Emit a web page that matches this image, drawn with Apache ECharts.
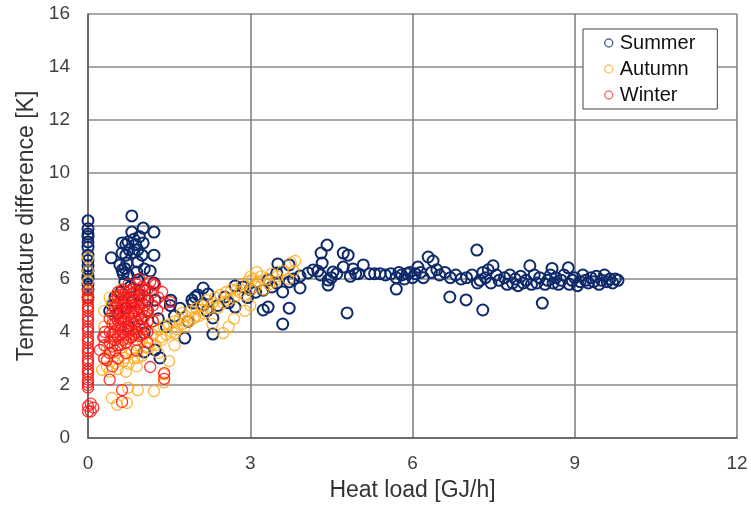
<!DOCTYPE html>
<html><head><meta charset="utf-8">
<script src="https://cdn.jsdelivr.net/npm/echarts@6/dist/echarts.min.js"></script>
<style>html,body{margin:0;padding:0;background:#fff}#c{width:751px;height:511px}</style>
</head><body><div id="c"></div>
<script>
var xTicks = [0, 3, 6, 9, 12];
var yTicks = [0, 2, 4, 6, 8, 10, 12, 14, 16];
var seriesNames = ['Summer', 'Autumn', 'Winter'];

var summer = [
[0,8.2],[0,7.9],[0,7.7],[0,7.6],[0,7.4],[0,7.2],[0,6.9],[0,6.7],[0,6.5],[0,6.3],[0,6.1],[0,6.0],[0,5.8],[0,5.6],[0,5.3],
[0.43,6.8],[0.59,6.53],[0.63,6.34],[0.63,6.98],[0.63,7.36],[0.72,6.6],[0.74,7.4],[0.81,7.77],[0.81,8.38],[0.92,7.1],[0.92,6.64],[1.02,7.36],[1.02,7.92],[1.04,6.38],[0.9,6.26],[0.74,6.15],[0.92,5.96],[0.68,5.89],[1.22,7.77],[1.22,6.9],[1.22,5.85],[1.05,5.58],[0.68,6.4],[0.7,6.9],[0.76,7.1],[0.85,7.0],[0.85,7.5],[0.95,7.6],[0.65,6.2],[0.78,5.7],[0.95,5.4],[0.6,5.5],[0.5,5.32],[0.45,5.0],[0.55,4.7],[0.8,5.1],[1.1,5.2],[1.24,5.2],[1.53,5.2],[1.52,5.0],[1.15,6.3],[1.0,6.9],[0.88,7.3],[0.7,7.3],[0.4,4.8],[0.75,4.2],[0.7,4.9],[0.98,4.5],[1.1,4.8],
[1.04,3.96],[1.24,3.32],[1.33,3.02],[1.04,3.25],[1.79,3.77],[1.98,5.32],[1.94,5.09],[2.13,5.66],[2.03,5.4],[2.22,5.43],[1.92,5.21],[2.13,5.02],[2.31,4.53],[2.31,3.92],[2.72,5.74],[2.72,4.94],[2.87,5.7],[2.53,5.32],[1.7,4.9],[1.6,4.6],[2.4,5.0],[2.6,5.1],[3.0,5.6],[2.95,5.3],[2.2,4.8],[1.85,4.4],[1.45,4.2],[1.3,4.5],
[4.42,7.28],[4.31,6.98],[4.72,6.98],[4.81,6.9],[3.51,6.57],[3.72,6.53],[4.33,6.6],[4.16,6.34],[4.07,6.23],[3.92,6.11],[4.53,6.26],[4.72,6.45],[4.9,6.38],[5.09,6.53],[4.44,5.96],[4.44,5.77],[5.4,6.2],[5.21,6.2],[3.92,5.66],[3.72,5.89],[3.49,6.23],[3.33,5.96],[3.6,5.51],[3.72,4.9],[3.24,4.83],[3.33,4.94],[3.6,4.3],[4.79,4.72],[3.49,5.85],[3.24,5.58],[4.25,6.3],[4.6,6.2],[4.95,6.2],[4.85,6.1],[4.5,6.05],[4.3,6.15],[3.8,6.0],[5.3,6.2],[5.0,6.2],[3.4,5.7],[3.1,5.5],
[5.5,6.15],[5.6,6.2],[5.7,6.05],[5.75,6.25],[5.8,6.15],[5.85,6.0],[5.9,6.2],[5.95,6.25],[6.0,6.05],[6.05,6.2],[6.1,6.45],[6.15,6.25],[6.2,6.05],[6.29,6.83],[6.38,6.68],[6.35,6.25],[6.45,6.35],[6.5,6.15],[6.6,6.25],[6.7,6.05],[6.8,6.15],[6.9,6.0],[7.0,6.05],[7.1,6.15],[7.19,7.09],[7.2,5.85],[7.25,5.95],[7.3,6.25],[7.35,6.05],[7.4,6.35],[7.45,5.85],[7.49,6.5],[7.55,6.15],[7.6,5.95],[7.7,6.05],[7.75,5.8],[7.8,6.15],[7.85,5.85],[7.9,6.0],[7.95,5.75],[8.0,6.1],[8.05,5.85],[8.1,5.95],[8.17,6.5],[8.2,5.8],[8.25,6.15],[8.3,5.85],[8.35,6.05],[8.45,5.8],[8.5,5.95],[8.55,6.15],[8.58,6.4],[8.6,5.85],[8.65,6.05],[8.7,5.8],[8.75,5.95],[8.8,6.15],[8.88,6.42],[8.9,5.8],[8.95,5.95],[9.0,6.05],[9.05,5.75],[9.1,5.9],[9.15,6.15],[9.2,5.95],[9.25,5.85],[9.3,6.05],[9.35,5.9],[9.4,6.1],[9.45,5.8],[9.5,5.95],[9.55,6.15],[9.6,5.9],[9.65,6.0],[9.7,5.85],[9.75,6.0],[9.8,5.95],
[5.7,5.62],[6.69,5.32],[6.99,5.21],[7.3,4.83],[8.4,5.09]
];

var autumn = [
[0,6.8],[0,6.3],[0,5.9],[0,5.5],[0,5.2],[0,4.9],
[0.44,1.51],[0.74,1.89],[0.92,1.81],[1.22,1.77],[0.72,1.32],[0.54,1.25],[1.4,2.1],
[0.26,2.57],[0.35,2.68],[0.5,2.83],[0.68,3.02],[0.92,3.02],[0.81,3.25],[1.05,3.43],[1.37,3.7],[1.61,3.96],[1.79,4.19],[1.98,4.57],[1.74,4.72],[2.11,4.83],[0.46,4.45],[0.44,5.09],[0.54,5.32],
[0.3,3.0],[0.4,2.5],[0.45,3.2],[0.55,2.6],[0.6,3.4],[0.65,2.9],[0.7,3.6],[0.75,2.8],[0.8,3.8],[0.85,3.0],[0.9,3.5],[0.95,3.9],[1.0,3.1],[1.0,3.7],[1.1,3.4],[1.1,4.0],[1.15,3.6],[1.2,3.9],[1.25,3.5],[1.3,4.1],[1.35,3.8],[1.4,4.2],[1.45,3.9],[1.5,4.3],[1.55,4.0],[1.6,4.4],[1.65,4.1],[1.7,4.5],[1.75,4.3],[1.8,4.6],[1.85,4.4],[1.9,4.8],[1.95,4.5],[2.0,4.9],[2.05,4.6],[2.1,5.0],[2.15,4.7],[2.2,5.2],[2.25,4.9],[2.3,5.1],[2.35,5.3],[2.4,4.9],[2.45,5.4],[2.5,5.1],[2.55,5.5],[2.6,5.2],[2.65,5.6],[2.7,5.3],[2.75,5.6],[2.8,5.5],[2.85,5.8],[2.9,5.4],[2.95,5.9],[3.0,5.6],[3.05,6.0],[3.1,5.7],[3.15,5.9],[3.2,6.1],[3.25,5.6],[3.3,6.0],[3.35,5.8],[3.4,6.2],[3.45,5.9],[3.5,6.1],[3.6,6.3],[3.7,6.0],[3.75,6.6],[3.8,6.3],
[2.6,4.2],[2.5,3.96],[2.3,4.3],[2.7,4.5],[3.0,5.0],[2.9,4.8],[1.6,3.5],[1.3,3.2],[1.5,2.9],[1.4,2.4],[0.9,2.7],[0.7,2.5],[0.35,3.4],[0.3,4.8],[0.4,5.3],[0.6,5.6],[0.3,4.2],[0.5,3.8],[0.8,4.4],[1.05,4.7],[1.2,4.4],[3.83,6.68],[3.12,6.26],[3.0,6.08]
];

var winter = [
[0,2.0],[0,2.2],[0,2.4],[0,2.6],[0,2.8],[0,3.0],[0,3.2],[0,3.4],[0,3.6],[0,3.8],[0,4.0],[0,4.2],[0,4.4],[0,4.6],[0,4.8],[0,5.0],[0,5.2],[0,5.4],[0,5.6],[0,2.1],[0,2.5],[0,2.9],[0,3.3],[0,3.7],[0,4.1],[0,4.5],[0,4.9],[0,5.3],[0,1.0],[0,1.2],[0.05,1.3],[0.05,1.0],[0.1,1.15],[0,1.9],
[0.5,3.3],[0.5,3.7],[0.5,4.0],[0.5,4.3],[0.5,4.6],[0.5,4.9],[0.5,5.2],
[0.55,3.5],[0.55,3.85],[0.55,4.15],[0.55,4.45],[0.55,4.75],[0.55,5.05],[0.55,5.35],
[0.6,3.5],[0.6,3.9],[0.6,4.2],[0.6,4.5],[0.6,4.8],[0.6,5.1],[0.6,5.4],
[0.65,3.7],[0.65,4.0],[0.65,4.4],[0.65,4.7],[0.65,5.0],[0.65,5.3],[0.65,5.6],
[0.7,3.6],[0.7,3.9],[0.7,4.2],[0.7,4.5],[0.7,4.8],[0.7,5.1],[0.7,5.5],
[0.75,3.75],[0.75,4.05],[0.75,4.35],[0.75,4.65],[0.75,4.95],[0.75,5.25],[0.75,5.55],
[0.8,3.8],[0.8,4.1],[0.8,4.4],[0.8,4.7],[0.8,5.0],[0.8,5.3],[0.8,5.6],
[0.85,3.9],[0.85,4.3],[0.85,4.6],[0.85,4.9],[0.85,5.2],[0.85,5.5],
[0.9,3.7],[0.9,4.0],[0.9,4.4],[0.9,4.8],[0.9,5.1],[0.9,5.5],[0.9,5.8],
[0.95,3.85],[0.95,4.25],[0.95,4.65],[0.95,4.95],[0.95,5.25],[0.95,5.6],
[1.0,3.9],[1.0,4.2],[1.0,4.5],[1.0,4.8],[1.0,5.1],[1.0,5.4],[1.0,5.7],
[1.05,4.1],[1.05,4.6],[1.05,5.0],[1.05,5.3],[1.05,5.6],
[1.1,4.0],[1.1,4.4],[1.1,4.8],[1.1,5.2],[1.1,5.6],
[1.2,4.4],[1.2,5.0],[1.2,5.5],[1.2,5.8],
[0.45,3.45],[0.45,3.9],[0.45,4.3],[0.45,4.7],
[0.4,3.2],[0.4,3.6],[0.4,4.0],[0.4,4.5],[0.3,3.0],[0.3,3.5],[0.3,3.8],[0.22,3.32],[0.28,3.81],[0.35,2.94],[0.31,4.0],
[1.24,5.77],[1.37,5.51],[1.42,5.09],[1.52,5.13],[1.28,4.83],[0.63,1.81],[0.63,1.36],[1.41,2.45],[1.41,2.23],[1.15,2.68],[0.45,2.7],[0.55,3.0],[0.7,3.2],[0.9,3.3],[1.1,3.6],[0.75,5.8],[0.95,6.0],[0.55,5.5],[1.3,5.3],[1.15,5.9],[0.4,2.2]
];

var chart = echarts.init(document.getElementById('c'), null, {renderer: 'canvas'});
var FONT = 'Liberation Sans, Arial, sans-serif';
var axisLabelStyle = {color: '#404040', fontSize: 19, fontFamily: FONT};
var nameStyle = {color: '#333', fontSize: 23, fontFamily: FONT};
function mk(name, data, color, bw, op) {
  return {
    name: name, type: 'scatter', data: data, symbol: 'circle', symbolSize: 11,
    itemStyle: {color: 'rgba(255,255,255,0)', borderColor: color, borderWidth: bw, opacity: op},
    emphasis: {disabled: true}, animation: false
  };
}
chart.setOption({
  animation: false,
  grid: {left: 88, right: 14, top: 14, bottom: 73},
  legend: {
    orient: 'vertical', left: 583, top: 29,
    data: [
      {name: 'Summer', itemStyle: {color: 'rgba(255,255,255,0)', borderColor: '#5a6b9a', borderWidth: 1.5}},
      {name: 'Autumn', itemStyle: {color: 'rgba(255,255,255,0)', borderColor: '#ffb84d', borderWidth: 1.5}},
      {name: 'Winter', itemStyle: {color: 'rgba(255,255,255,0)', borderColor: '#ff6060', borderWidth: 1.5}}
    ],
    icon: 'circle', itemWidth: 8, itemHeight: 8, itemGap: 6,
    backgroundColor: '#fff', borderColor: '#404040', borderWidth: 1,
    padding: [4, 22, 4, 21],
    textStyle: {color: '#111', fontSize: 20, fontFamily: FONT, padding: [0, 0, 0, 2]}
  },
  xAxis: {
    type: 'value', min: 0, max: 12, interval: 3,
    name: 'Heat load [GJ/h]', nameLocation: 'middle', nameGap: 41, nameTextStyle: nameStyle,
    axisLine: {show: true, lineStyle: {color: '#595959', width: 1.5}},
    axisTick: {show: false},
    axisLabel: Object.assign({margin: 16}, axisLabelStyle),
    splitLine: {show: true, lineStyle: {color: '#7a7a7a', width: 1.5}}
  },
  yAxis: {
    type: 'value', min: 0, max: 16, interval: 2,
    name: 'Temperature difference [K]', nameLocation: 'middle', nameGap: 50, nameTextStyle: nameStyle,
    axisLine: {show: true, lineStyle: {color: '#595959', width: 1.5}},
    axisTick: {show: false},
    axisLabel: Object.assign({margin: 18}, axisLabelStyle),
    splitLine: {show: true, lineStyle: {color: '#8a8a8a', width: 1.5}}
  },
  series: [
    mk('Summer', summer, '#0f2a6b', 2, 1),
    mk('Autumn', autumn, '#ffaa1a', 1.3, 0.85),
    mk('Winter', winter, '#ff1a1a', 1.3, 0.9)
  ]
});
</script></body></html>
